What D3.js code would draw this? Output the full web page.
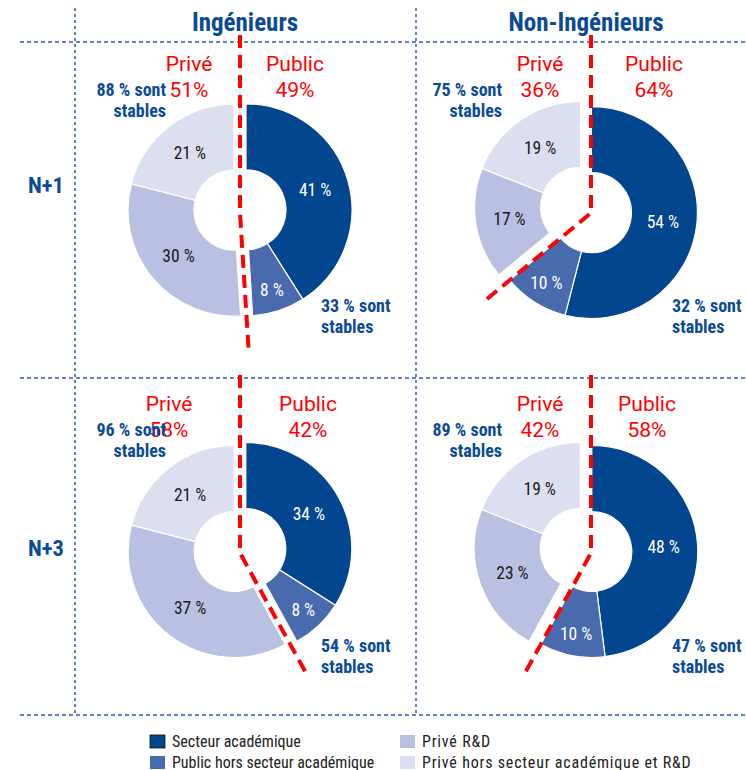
<!DOCTYPE html>
<html>
<head>
<meta charset="utf-8">
<script src="https://cdn.jsdelivr.net/npm/d3@7"></script>
<style>
  body { margin: 0; background: #fff; }
  svg text { font-family: "Liberation Sans Narrow", "Arial Narrow", "Roboto Condensed", "DejaVu Sans Condensed", sans-serif; }
  .red { font-family: Roboto, "Liberation Sans", sans-serif !important; }
</style>
</head>
<body>
<figure id="donuts" style="margin:0"></figure>
<script>
// columns, rows and the four panels (Ing N+1, Non-Ing N+1, Ing N+3, Non-Ing N+3)
var columns = ["Ingénieurs", "Non-Ingénieurs"];
var rows = ["N+1", "N+3"];
var categories = ["Secteur académique", "Public hors secteur académique", "Privé R&D", "Privé hors secteur académique et R&D"];
var panelCol = ["Ingénieurs", "Non-Ingénieurs", "Ingénieurs", "Non-Ingénieurs"];
var panelRow = ["N+1", "N+1", "N+3", "N+3"];
var shares = [
  [41, 8, 30, 21],
  [54, 10, 17, 19],
  [34, 8, 37, 21],
  [48, 10, 23, 19]
];
var priveTotals = [51, 36, 58, 42];
var publicTotals = [49, 64, 42, 58];
var priveStables = [88, 75, 96, 89];
var publicStables = [33, 32, 54, 47];

var width = 746, height = 770;
var colors = ["#02468f", "#4a6aae", "#b9c0e1", "#dcdff0"];
var blue = "#0b4a97", red = "#ff0000", grid = "#2f5da3";

var svg = d3.select("figure#donuts")
  .append("svg")
  .attr("width", width)
  .attr("height", height);

// panel centres
var x = d3.scaleOrdinal().domain(columns).range([240, 586]);
var y = d3.scaleOrdinal().domain(rows).range([210, 550]);
var headerX = d3.scaleOrdinal().domain(columns).range([245, 586]);
var rowLabelY = d3.scaleOrdinal().domain(rows).range([185, 548]);

// grid lines
[42, 378, 715].forEach(function(gy) {
  svg.append("line").attr("x1", 20).attr("x2", width).attr("y1", gy).attr("y2", gy)
    .attr("stroke", grid).attr("stroke-width", 1.5).attr("stroke-dasharray", "4,3");
});
[75, 416].forEach(function(gx) {
  svg.append("line").attr("x1", gx).attr("x2", gx).attr("y1", 8).attr("y2", 715)
    .attr("stroke", grid).attr("stroke-width", 1.5).attr("stroke-dasharray", "3,3");
});

// headers
svg.selectAll(".head").data(columns).enter().append("text")
  .attr("x", function(d) { return headerX(d); })
  .attr("y", 22)
  .attr("text-anchor", "middle").attr("dominant-baseline", "central")
  .attr("font-size", 25).attr("font-weight", "bold").attr("fill", blue)
  .text(function(d) { return d; });

svg.selectAll(".rowlab").data(rows).enter().append("text")
  .attr("x", 46)
  .attr("y", function(d) { return rowLabelY(d); })
  .attr("text-anchor", "middle").attr("dominant-baseline", "central")
  .attr("font-size", 22.5).attr("font-weight", "bold").attr("fill", blue)
  .text(function(d) { return d; });

var R = 106, r = 40, explode = 6;
var pie = d3.pie().sort(null).value(function(d) { return d; });
var arc = d3.arc().innerRadius(r).outerRadius(R);

shares.forEach(function(vals, i) {
  var cx = x(panelCol[i]), cy = y(panelRow[i]);
  var ci = columns.indexOf(panelCol[i]);
  var g = svg.append("g").attr("transform", "translate(" + cx + "," + cy + ")");
  var pubAngle = publicTotals[i] / 100 * 2 * Math.PI;
  var mids = [pubAngle / 2, (pubAngle + 2 * Math.PI) / 2];
  function shift(k) {
    var a = mids[k < 2 ? 0 : 1];
    return [explode * Math.sin(a), -explode * Math.cos(a)];
  }
  var arcs = pie(vals);
  g.selectAll("path").data(arcs).enter().append("path")
    .attr("d", arc)
    .attr("transform", function(d, k) { return "translate(" + shift(k) + ")"; })
    .attr("fill", function(d, k) { return colors[k]; })
    .attr("stroke", "#fff").attr("stroke-width", 1.2);
  g.selectAll(".pct").data(arcs).enter().append("text")
    .attr("x", function(d, k) {
      var a = (d.startAngle + d.endAngle) / 2, rr = d.value < 12 ? 84 : 72;
      return rr * Math.sin(a) + shift(k)[0];
    })
    .attr("y", function(d, k) {
      var a = (d.startAngle + d.endAngle) / 2, rr = d.value < 12 ? 84 : 72;
      return -rr * Math.cos(a) + shift(k)[1];
    })
    .attr("text-anchor", "middle").attr("dominant-baseline", "central")
    .attr("font-size", 17.5)
    .attr("fill", function(d, k) { return k < 2 ? "#fff" : "#1a1a1a"; })
    .text(function(d) { return d.value + " %"; });

  // red public / private split
  var lx = ci === 0 ? 0 : 5, by = 3, len = 140;
  g.append("path")
    .attr("d", d3.line()([[lx, -175], [lx, by], [lx + len * Math.sin(pubAngle), by - len * Math.cos(pubAngle)]]))
    .attr("fill", "none").attr("stroke", red).attr("stroke-width", 4)
    .attr("stroke-dasharray", "13,7");

  // Privé / Public labels
  var privX = [-51, -46, -71, -46][i], pubX = [55, 68, 68, 61][i];
  [["Privé", priveTotals[i], privX], ["Public", publicTotals[i], pubX]].forEach(function(l) {
    g.append("text").attr("class", "red").attr("x", l[2]).attr("y", -146)
      .attr("text-anchor", "middle").attr("dominant-baseline", "central")
      .attr("font-size", 21).attr("fill", red).text(l[0]);
    g.append("text").attr("class", "red").attr("x", l[2]).attr("y", -120)
      .attr("text-anchor", "middle").attr("dominant-baseline", "central")
      .attr("font-size", 21).attr("fill", red).text(l[1] + "%");
  });

  // stability notes
  var leftX = ci === 0 ? -74 : -84, rightX = ci === 0 ? 81 : 86;
  [[priveStables[i], leftX, -121, "end"], [publicStables[i], rightX, 95, "start"]].forEach(function(s) {
    var t = g.append("text").attr("x", s[1]).attr("y", s[2])
      .attr("text-anchor", s[3]).attr("font-size", 18).attr("font-weight", "bold").attr("fill", blue);
    t.append("tspan").attr("x", s[1]).attr("dy", 0).attr("dominant-baseline", "central").text(s[0] + " % sont");
    t.append("tspan").attr("x", s[1]).attr("dy", 21).attr("dominant-baseline", "central").text("stables");
  });
});

// legend
var legend = svg.selectAll(".leg").data(categories).enter().append("g")
  .attr("transform", function(d, k) {
    return "translate(" + (k < 2 ? 150 : 400) + "," + (k % 2 === 0 ? 735 : 756) + ")";
  });
legend.append("rect").attr("width", 15).attr("height", 13)
  .attr("fill", function(d, k) { return colors[k]; })
  .attr("stroke", function(d, k) { return k === 0 ? "#111" : "none"; })
  .attr("stroke-width", 0.8);
legend.append("text").attr("x", 22).attr("y", 6).attr("dominant-baseline", "central")
  .attr("font-size", 16).attr("fill", "#222")
  .attr("letter-spacing", function(d, k) { return k < 2 ? 0 : 0.8; })
  .text(function(d) { return d; });
</script>
</body>
</html>
